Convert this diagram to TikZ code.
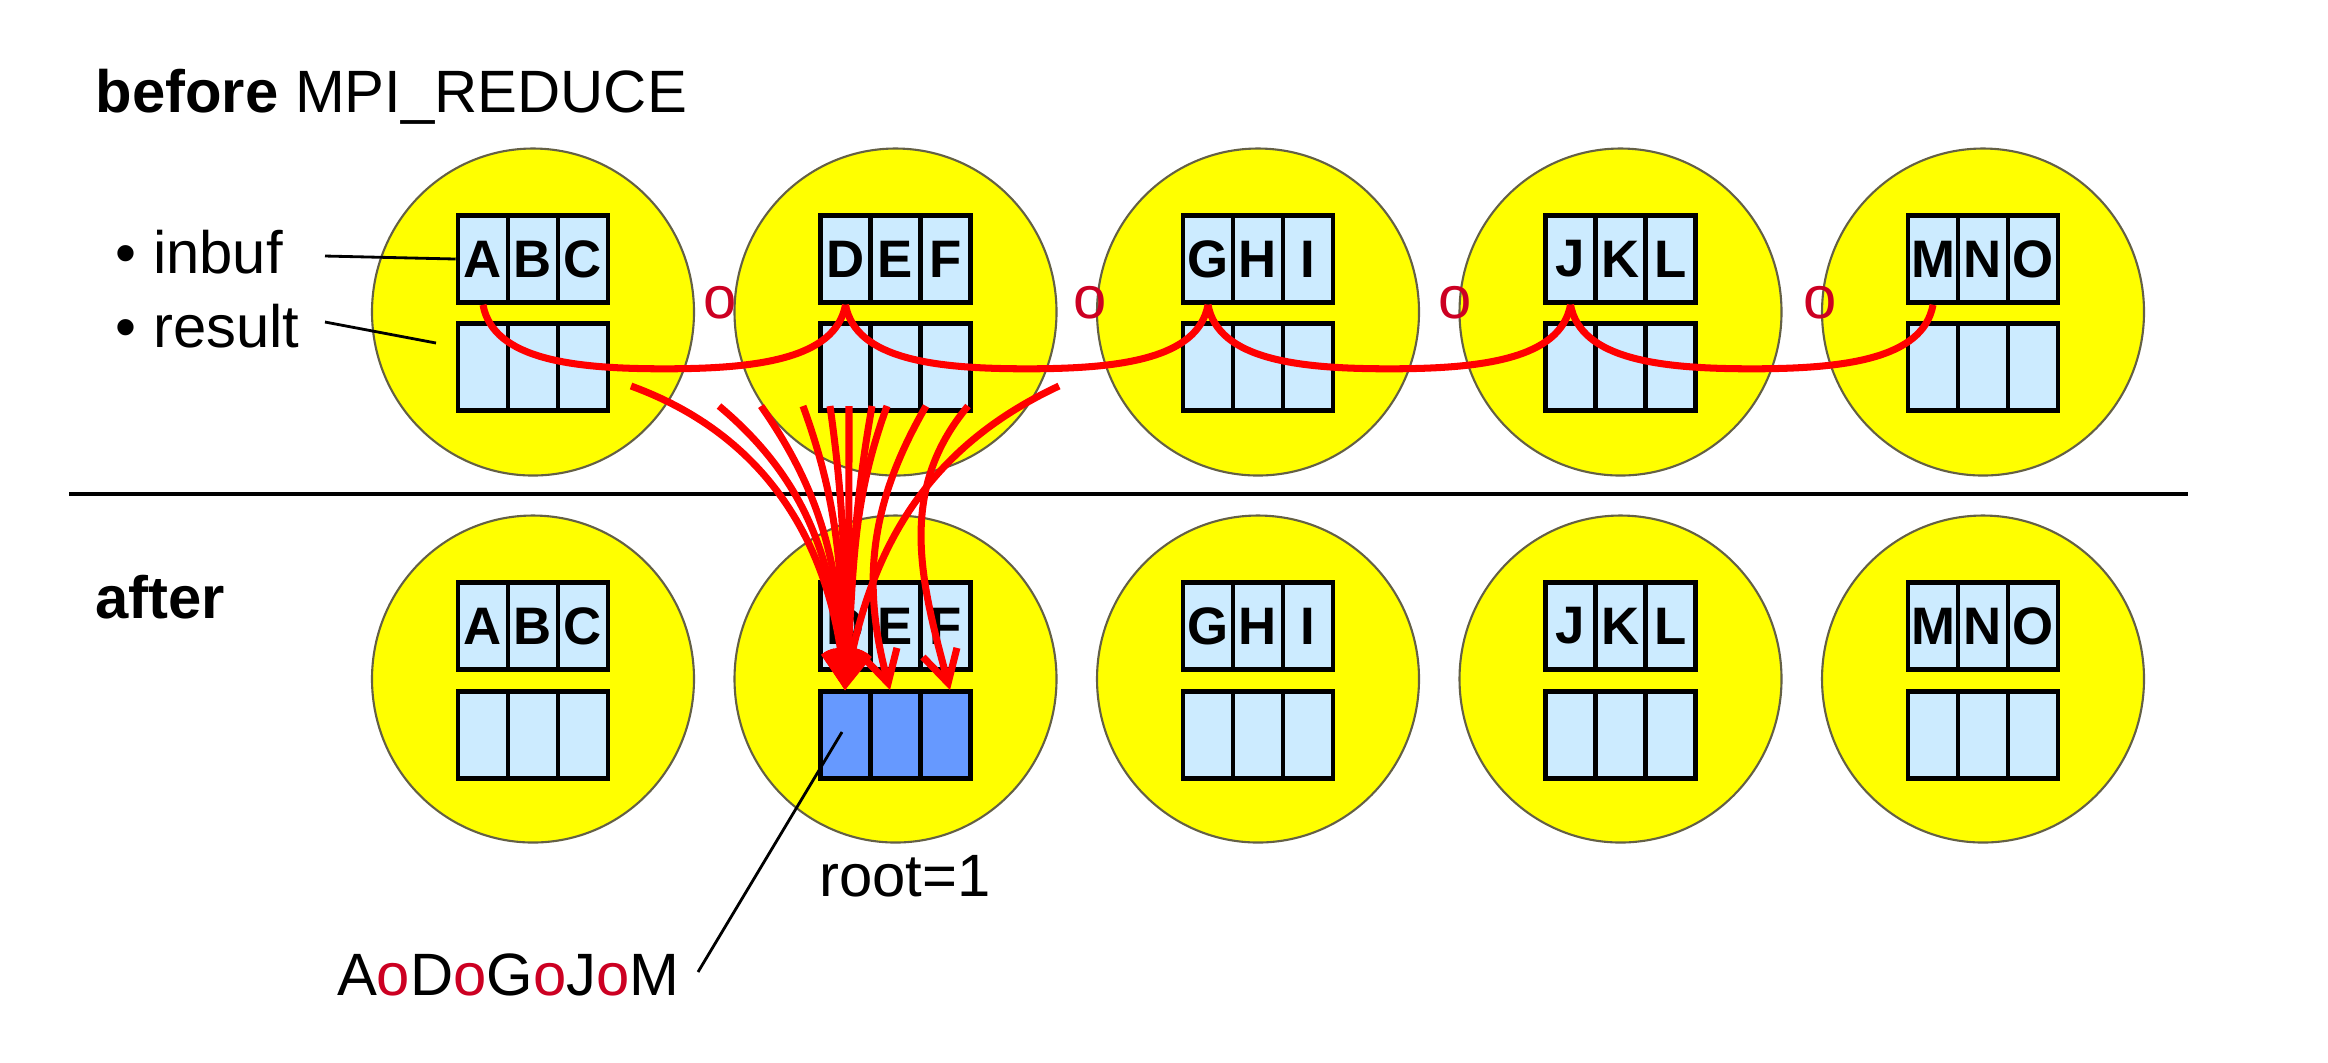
\documentclass[tikz,border=0pt]{standalone}
\usepackage{fontspec}
\setmainfont{Liberation Sans}
\usetikzlibrary{shapes.geometric,arrows.meta,calc}
\definecolor{cellblue}{HTML}{CCEBFF}
\definecolor{rootblue}{HTML}{6699FF}
\definecolor{opred}{HTML}{CC0022}
\definecolor{pyellow}{HTML}{FFFF00}
\newlength\pxu \setlength\pxu{0.01cm}
\tikzset{
  proc/.style={ellipse,draw=black!70!yellow,fill=pyellow,minimum width=322\pxu,minimum height=327\pxu,line width=0.6pt},
  cell/.style={draw=black,fill=cellblue,line width=1.3pt,minimum width=50\pxu,minimum height=87\pxu,inner sep=0pt,font=\bfseries\fontsize{15}{15}\selectfont},
  redline/.style={red,line width=2pt},
  fan/.style={red,line width=2pt,-{Straight Barb[length=9pt,width=10pt]}},
  opo/.style={text=opred,font=\fontsize{17}{17}\selectfont},
  lbl/.style={font=\fontsize{17}{17}\selectfont,inner sep=0pt},
  leader/.style={black,line width=0.8pt}
}
\begin{document}
\begin{tikzpicture}[x=0.01cm,y=-0.01cm]
\useasboundingbox (0,0) rectangle (2328,1062);
\node[lbl,anchor=west] (title) at (95,97) {\textbf{before} MPI\_REDUCE};
\node[lbl,anchor=west] (after) at (95,597) {\textbf{after}};
\draw[black,line width=1.3pt] (69,494) coordinate (l0) -- (2188,494) coordinate (l1);
\foreach \i/\a/\b/\c in {1/A/B/C,2/D/E/F,3/G/H/I,4/J/K/L,5/M/N/O}{
  \pgfmathsetmacro\cx{533+362.5*(\i-1)}
  \node[proc] (pt\i) at (\cx,312) {};
  \node[proc] (pb\i) at (\cx,679) {};
  \foreach \r/\yy in {t/312,b/679}{
    \node[cell] (\r in\i a) at (\cx-50,\yy-53) {\a};
    \node[cell] (\r in\i b) at (\cx,\yy-53) {\b};
    \node[cell] (\r in\i c) at (\cx+50,\yy-53) {\c};
  }
  \node[cell] (tre\i a) at (\cx-50,367) {};
  \node[cell] (tre\i b) at (\cx,367) {};
  \node[cell] (tre\i c) at (\cx+50,367) {};
}
\foreach \i in {1,3,4,5}{
  \node[cell] (bre\i a) at (533+362.5*\i-362.5-50,735) {};
  \node[cell] (bre\i b) at (533+362.5*\i-362.5,735) {};
  \node[cell] (bre\i c) at (533+362.5*\i-362.5+50,735) {};
}
\node[cell,fill=rootblue] (bre2a) at (845.5,735) {};
\node[cell,fill=rootblue] (bre2b) at (895.5,735) {};
\node[cell,fill=rootblue] (bre2c) at (945.5,735) {};
% labels
\node[lbl,anchor=west] (inbuf) at (115,252) {\textbullet\ inbuf};
\node[lbl,anchor=west] (result) at (115,326) {\textbullet\ result};
\draw[leader] (325,256) -- (tin1a.west);
\draw[leader] (325,322) -- (436,343);
% o operators
\foreach \x [count=\k] in {720,1090,1455,1820}{
  \node[opo] (op\k) at (\x,303) {o};
}
% reduction arcs
\foreach \i [evaluate=\i as \j using int(\i+1)] in {1,2,3,4}{
  \draw[redline] (tin\i a.south) .. controls +(10,55) and +(-90,0) .. ($(tin\i a.south)!0.5!(tin\j a.south)+(0,64)$) coordinate (m\i)
     .. controls +(90,0) and +(-10,55) .. (tin\j a.south);
}
% fan
\coordinate (t1) at (845,690);
\coordinate (t2) at (890,690);
\coordinate (t3) at (950,690);
\foreach \sx/\sy/\o/\t/\ii in {631/386/-20/t1/95,719/406/-40/t1/95,761/406/-55/t1/93,803/406/-70/t1/92,830/406/-82/t1/90,849/406/-90/t1/88,872/406/-100/t1/86,887/406/-110/t1/85,926/406/-120/t2/105,968/406/-130/t3/105,1059/386/-155/t1/80}{
  \coordinate (s) at (\sx,\sy);
  \draw[fan] (s) to[out=\o,in=\ii] (\t);
}
\node[lbl,anchor=north] (root) at (905,855) {root=1};
\node[lbl,anchor=east] (res) at (680,975) {A\textcolor{opred}{o}D\textcolor{opred}{o}G\textcolor{opred}{o}J\textcolor{opred}{o}M};
\draw[leader] (842,732) -- (698,972);
\end{tikzpicture}
\end{document}
